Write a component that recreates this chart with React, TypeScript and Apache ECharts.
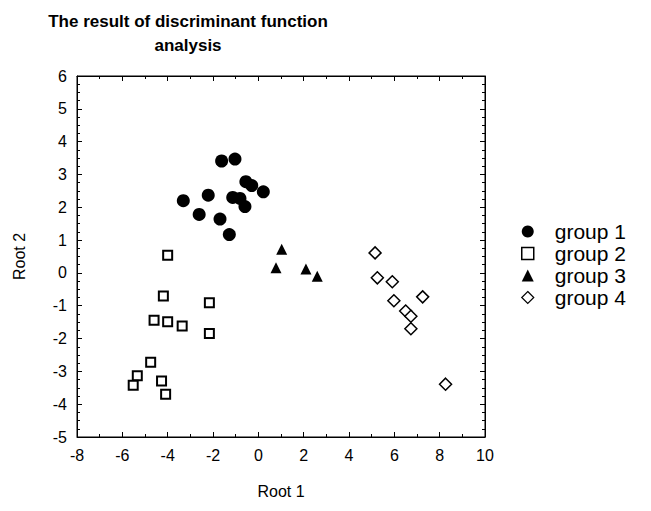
import React, { useEffect, useRef } from "react";
import * as echarts from "echarts";

const titleLines = ["The result of discriminant function", "analysis"];
const xName = "Root 1";
const yName = "Root 2";
const seriesNames = ["group 1", "group 2", "group 3", "group 4"];

const group1: [number, number][] = [
  [-1.62, 3.41], [-1.03, 3.47], [-0.55, 2.78], [-0.29, 2.66], [0.22, 2.47],
  [-2.21, 2.37], [-1.13, 2.3], [-0.81, 2.27], [-3.31, 2.2], [-0.59, 2.02],
  [-2.61, 1.78], [-1.69, 1.64], [-1.28, 1.17],
];
const group2: [number, number][] = [
  [-4.0, 0.54], [-4.19, -0.7], [-2.16, -0.91], [-4.6, -1.44], [-4.0, -1.49],
  [-3.36, -1.62], [-2.16, -1.85], [-4.75, -2.72], [-5.34, -3.13], [-5.52, -3.42],
  [-4.27, -3.29], [-4.09, -3.7],
];
const group3: [number, number][] = [
  [1.03, 0.72], [0.78, 0.16], [2.1, 0.12], [2.6, -0.1],
];
const group4: [number, number][] = [
  [5.15, 0.61], [5.25, -0.15], [5.91, -0.27], [5.98, -0.85], [7.25, -0.73],
  [6.5, -1.16], [6.73, -1.32], [6.73, -1.7], [8.26, -3.39],
];

const xMin = -8, xMax = 10, xInterval = 2;
const yMin = -5, yMax = 6, yInterval = 1;

const FONT = "Liberation Sans, Arial, sans-serif";

export default function App() {
  const ref = useRef<HTMLDivElement>(null);
  useEffect(() => {
    if (!ref.current) return;
    const chart = echarts.init(ref.current, undefined, { renderer: "svg" });
    const axisCommon = {
      axisLine: { show: true, onZero: false, lineStyle: { color: "#000", width: 1 } },
      axisTick: { show: true, inside: true, length: 5, lineStyle: { color: "#000" } },
      minorTick: { show: true, length: 3, lineStyle: { color: "#000" } },
      splitLine: { show: false },
    };
    chart.setOption({
      animation: false,
      backgroundColor: "#fff",
      textStyle: { fontFamily: FONT },
      graphic: [
        {
          type: "text",
          x: 188,
          y: 9,
          style: {
            text: titleLines.join("\n"),
            align: "center",
            font: `bold 17px ${FONT}`,
            lineHeight: 24,
            fill: "#000",
          },
        },
      ],
      grid: { left: 77, right: 166, top: 76, bottom: 74, show: true, borderColor: "#000", borderWidth: 1 },
      legend: {
        orient: "vertical",
        left: 521,
        top: 221,
        padding: 0,
        itemWidth: 12,
        itemHeight: 12,
        itemGap: 1,
        textStyle: { fontSize: 21, color: "#000", fontFamily: FONT, padding: [0, 0, 0, 16] },
        data: [
          { name: seriesNames[0] },
          { name: seriesNames[1], itemStyle: { borderWidth: 1.5 } },
          { name: seriesNames[2] },
          { name: seriesNames[3], itemStyle: { borderWidth: 1.2 } },
        ],
      },
      xAxis: [
        {
          ...axisCommon,
          type: "value",
          min: xMin,
          max: xMax,
          interval: xInterval,
          minorTick: { ...axisCommon.minorTick, splitNumber: 2 },
          axisLabel: { fontSize: 16, color: "#000", margin: 10, fontFamily: FONT },
          name: xName,
          nameLocation: "middle",
          nameGap: 46,
          nameTextStyle: { fontSize: 16, color: "#000", fontFamily: FONT },
        },
        {
          ...axisCommon,
          type: "value",
          position: "top",
          min: xMin,
          max: xMax,
          interval: xInterval,
          minorTick: { ...axisCommon.minorTick, splitNumber: 2 },
          axisLabel: { show: false },
        },
      ],
      yAxis: [
        {
          ...axisCommon,
          type: "value",
          min: yMin,
          max: yMax,
          interval: yInterval,
          minorTick: { ...axisCommon.minorTick, splitNumber: 4 },
          axisLabel: { fontSize: 16, color: "#000", margin: 10, fontFamily: FONT },
          name: yName,
          nameLocation: "middle",
          nameGap: 50,
          nameTextStyle: { fontSize: 16, color: "#000", fontFamily: FONT },
        },
        {
          ...axisCommon,
          type: "value",
          position: "right",
          min: yMin,
          max: yMax,
          interval: yInterval,
          minorTick: { ...axisCommon.minorTick, splitNumber: 4 },
          axisLabel: { show: false },
        },
      ],
      series: [
        {
          name: seriesNames[0],
          type: "scatter",
          data: group1,
          symbol: "circle",
          symbolSize: 13,
          itemStyle: { color: "#000", opacity: 1 },
        },
        {
          name: seriesNames[1],
          type: "scatter",
          data: group2,
          symbol: "rect",
          symbolSize: 9,
          itemStyle: { color: "#fff", borderColor: "#000", borderWidth: 2, opacity: 1 },
        },
        {
          name: seriesNames[2],
          type: "scatter",
          data: group3,
          symbol: "triangle",
          symbolSize: [11, 11],
          itemStyle: { color: "#000", opacity: 1 },
        },
        {
          name: seriesNames[3],
          type: "scatter",
          data: group4,
          symbol: "diamond",
          symbolSize: 12,
          itemStyle: { color: "#fff", borderColor: "#000", borderWidth: 1.5, opacity: 1 },
        },
      ],
    });
    return () => chart.dispose();
  }, []);
  return <div ref={ref} style={{ width: 651, height: 511, position: "absolute", left: 0, top: 0 }} />;
}
